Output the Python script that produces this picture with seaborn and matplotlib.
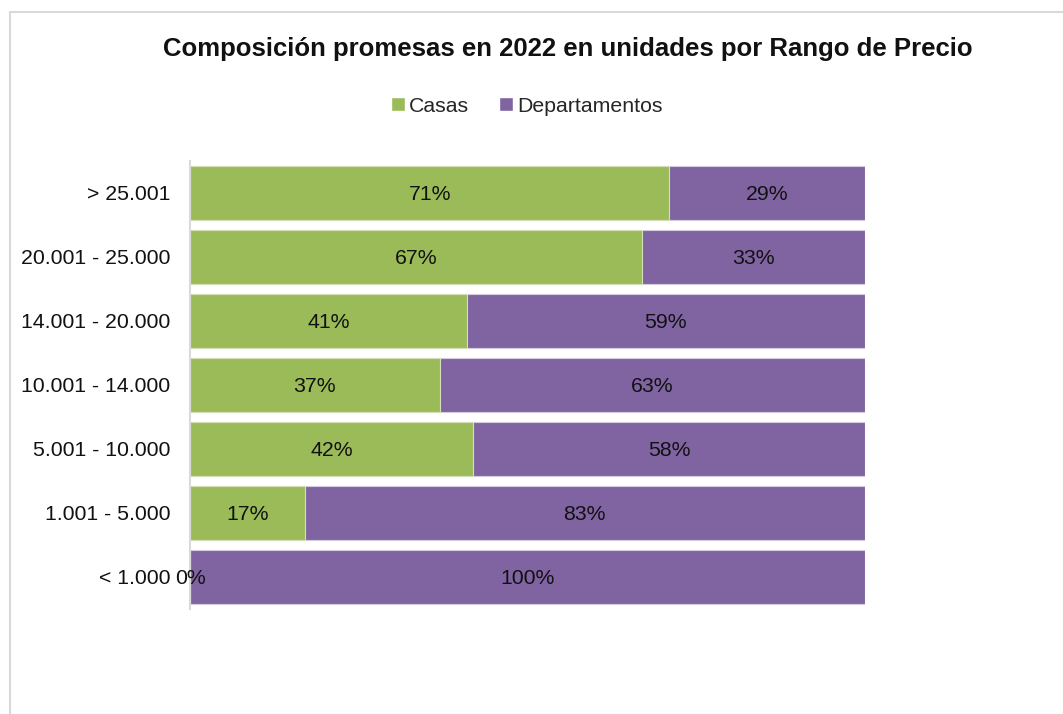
import matplotlib
matplotlib.use("Agg")
import matplotlib.pyplot as plt
import seaborn as sns
import pandas as pd
from matplotlib.patches import Rectangle, Patch

categories = ["> 25.001", "20.001 - 25.000", "14.001 - 20.000", "10.001 - 14.000",
              "5.001 - 10.000", "1.001 - 5.000", "< 1.000"]
casas = [71, 67, 41, 37, 42, 17, 0]
departamentos = [29, 33, 59, 63, 58, 83, 100]
series_names = ["Casas", "Departamentos"]
title = "Composición promesas en 2022 en unidades por Rango de Precio"

GREEN = "#9BBB59"
PURPLE = "#8064A2"

sns.set_theme(style="white")
plt.rcParams["font.family"] = ["Liberation Sans", "DejaVu Sans"]

df = pd.DataFrame({"cat": categories, "casas": casas, "dep": departamentos})
df["total"] = df["casas"] + df["dep"]

fig = plt.figure(figsize=(10.63, 7.14), dpi=100)
ax = fig.add_axes([190 / 1063, 105 / 714, 675 / 1063, 448 / 714])

sns.barplot(data=df, y="cat", x="total", color=PURPLE, orient="h", ax=ax,
            width=0.83, saturation=1, edgecolor="#D5CCE0", linewidth=0.8)
sns.barplot(data=df, y="cat", x="casas", color=GREEN, orient="h", ax=ax,
            width=0.83, saturation=1, edgecolor="#D3E0B8", linewidth=0.8)
if ax.get_legend() is not None:
    ax.get_legend().remove()

FS = 15.3
for i, (c, d) in enumerate(zip(casas, departamentos)):
    ax.text(c / 2, i, f"{c}%", ha="center", va="center_baseline", fontsize=FS, color="#111111")
    ax.text(c + d / 2, i, f"{d}%", ha="center", va="center_baseline", fontsize=FS, color="#111111")

ax.set_xlim(0, 100)
ax.set_ylim(6.5, -0.5)
ax.set_xlabel("")
ax.set_ylabel("")
ax.set_xticks([])
ax.tick_params(axis="y", length=0, labelsize=FS, pad=14, colors="#111111")
for lbl in ax.get_yticklabels():
    lbl.set_verticalalignment("center_baseline")
for s in ["top", "right", "bottom"]:
    ax.spines[s].set_visible(False)
ax.spines["left"].set_color("#D9D9D9")
ax.spines["left"].set_linewidth(1.5)

leg_handles = [Patch(facecolor=GREEN), Patch(facecolor=PURPLE)]
fig.legend(leg_handles, series_names, loc="center", bbox_to_anchor=(527 / 1063, 1 - 106 / 714),
           ncol=2, frameon=False, fontsize=FS, handlelength=0.65, handleheight=0.65,
           handletextpad=0.2, columnspacing=1.4)

fig.text(568 / 1063, 1 - 49 / 714, title, ha="center", va="center",
         fontsize=18.5, fontweight="bold", color="#111111")

fig.patches.append(Rectangle((10 / 1063, -0.1), 1.2, 1 - 12 / 714 + 0.1,
                             transform=fig.transFigure, fill=False,
                             edgecolor="#D9D9D9", linewidth=1.5))

fig.savefig("out.png", dpi=100)
